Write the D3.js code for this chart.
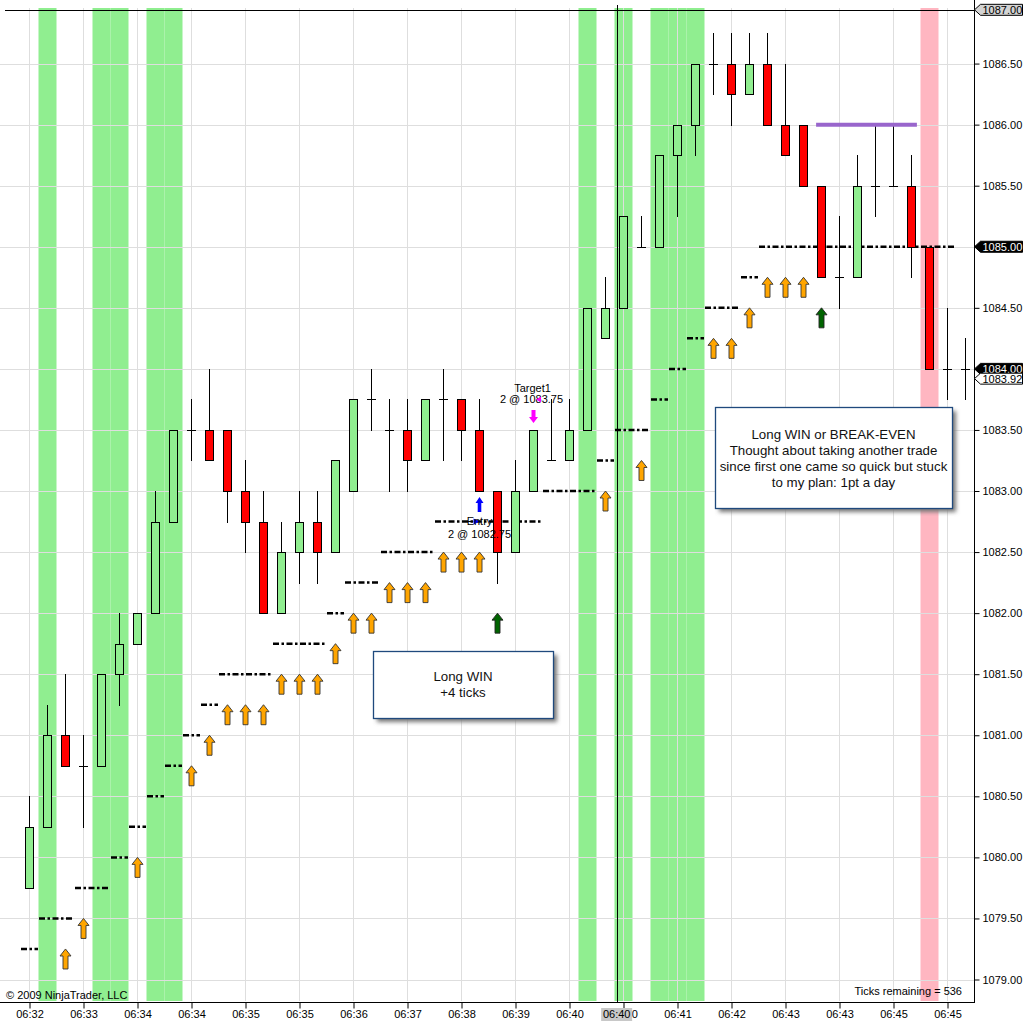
<!DOCTYPE html>
<html>
<head>
<meta charset="utf-8">
<script src="https://cdn.jsdelivr.net/npm/d3@7/dist/d3.min.js"></script>
<style>
body { margin: 0; background: white; }
svg text { font-family: Arial, "Liberation Sans", sans-serif; }
</style>
</head>
<body>
<div id="chart"></div>
<script>
// 1 minute-ish bars, ES chart, 53 bars
let opens  = [1079.75,1080.25,1081.00,1080.75,1080.75,1081.50,1081.75,1082.00,1082.75,1083.50,
              1083.50,1083.50,1083.00,1082.75,1082.00,1082.50,1082.75,1082.50,1083.00,1083.75,
              1083.50,1083.50,1083.25,1083.75,1083.75,1083.50,1083.00,1082.50,1083.00,1083.25,
              1083.25,1083.50,1084.25,1084.50,1085.00,1085.00,1085.75,1086.00,1086.50,1086.50,
              1086.25,1086.50,1086.00,1086.00,1085.50,1084.75,1084.75,1085.50,1085.50,1085.50,
              1085.00,1084.00,1084.00];
let highs  = [1080.50,1081.25,1081.50,1081.00,1081.50,1082.00,1082.00,1083.00,1083.50,1083.75,
              1084.00,1083.50,1083.25,1083.00,1082.75,1083.00,1083.00,1083.25,1083.75,1084.00,
              1083.75,1083.75,1083.75,1084.00,1083.75,1083.75,1083.00,1083.25,1083.50,1083.75,
              1083.75,1084.50,1084.75,1085.25,1085.25,1085.75,1086.00,1086.50,1086.75,1086.75,
              1086.75,1086.75,1086.50,1086.00,1085.50,1085.25,1085.75,1086.00,1086.00,1085.75,
              1085.00,1084.50,1084.25];
let lows   = [1079.75,1080.25,1080.75,1080.25,1080.75,1081.25,1081.75,1082.00,1082.75,1083.25,
              1083.25,1082.75,1082.50,1082.00,1082.00,1082.25,1082.25,1082.50,1083.00,1083.50,
              1083.00,1083.00,1083.25,1083.25,1083.25,1083.00,1082.25,1082.50,1083.00,1083.25,
              1083.25,1083.50,1084.25,1084.50,1085.00,1085.00,1085.25,1085.75,1086.25,1086.00,
              1086.25,1086.00,1085.75,1085.50,1084.75,1084.50,1084.75,1085.25,1085.50,1084.75,
              1084.00,1083.75,1083.75];
let closes = [1080.25,1081.00,1080.75,1080.75,1081.50,1081.75,1082.00,1082.75,1083.50,1083.50,
              1083.25,1083.00,1082.75,1082.00,1082.50,1082.75,1082.50,1083.25,1083.75,1083.75,
              1083.50,1083.25,1083.75,1083.75,1083.50,1083.00,1082.50,1083.00,1083.50,1083.25,
              1083.50,1084.50,1084.50,1085.25,1085.00,1085.75,1086.00,1086.50,1086.50,1086.25,
              1086.50,1086.00,1085.75,1085.50,1084.75,1084.75,1085.50,1085.50,1085.50,1085.00,
              1084.00,1084.00,1084.00];

// trailing stop (dash-dot steps), one value per bar
let stops  = [1079.25,1079.50,1079.50,1079.75,1079.75,1080.00,1080.25,1080.50,1080.75,1081.00,
              1081.25,1081.50,1081.50,1081.50,1081.75,1081.75,1081.75,1082.00,1082.25,1082.25,
              1082.50,1082.50,1082.50,1082.75,1082.75,1082.75,1082.75,1082.75,1082.75,1083.00,
              1083.00,1083.00,1083.25,1083.50,1083.50,1083.75,1084.00,1084.25,1084.50,1084.50,
              1084.75,1085.00,1085.00,1085.00,1085.00,1085.00,1085.00,1085.00,1085.00,1085.00,
              1085.00,1085.00,null];

let orangeArrowBars   = [3,4,7,10,11,12,13,14,15,16,17,18,19,20,21,22,23,24,25,26,33,35,39,40,41,42,43,44];
let orangeArrowPrices = [1079.25,1079.50,1080.00,1080.75,1081.00,1081.25,1081.25,1081.25,1081.50,1081.50,
                         1081.50,1081.75,1082.00,1082.00,1082.25,1082.25,1082.25,1082.50,1082.50,1082.50,
                         1083.00,1083.25,1084.25,1084.25,1084.50,1084.75,1084.75,1084.75];
let greenArrowBars   = [27, 45];
let greenArrowPrices = [1082.00, 1084.50];

let greenBackBars = [2,5,6,8,9,32,34,36,37,38];
let pinkBackBars  = [51];

let priceTicks = [1079.00,1079.50,1080.00,1080.50,1081.00,1081.50,1082.00,1082.50,
                  1083.00,1083.50,1084.00,1084.50,1085.00,1085.50,1086.00,1086.50];
let timeTickBars = [1,4,7,10,13,16,19,22,25,28,31,34,37,40,43,46,49,52];
let timeLabels   = ["06:32","06:33","06:34","06:34","06:35","06:35","06:36","06:37","06:38",
                    "06:39","06:40","06:40","06:41","06:42","06:43","06:43","06:45","06:45"];

let entryBar = 26, entryPrice = 1082.75, entryText = ["Entry", "2 @ 1082.75"];
let exitBar = 29, exitPrice = 1083.75, exitText = ["Target1", "2 @ 1083.75"];

let levelStartBar = 44.7, levelEndBar = 50.3, levelPrice = 1086.00;
let markerPrices = [1085.00, 1084.00];
let lastPrice = 1083.92;
let crossBar = 33.62, crossPrice = 1086.94, crossTime = "06:40";

let note1 = ["Long WIN", "+4 ticks"];
let note2 = ["Long WIN or BREAK-EVEN", "Thought about taking another trade",
             "since first one came so quick but stuck", "to my plan: 1pt a day"];

/*----------------------------------------------*/

let width = 1035, height = 1028;
let plotRight = 974, plotTop = 8, plotBottom = 1002;

let svg = d3.select("#chart")
	.append("svg")
	.attr("width", width)
	.attr("height", height)
	.style("background-color", "white");

let defs = svg.append("defs");
defs.append("clipPath").attr("id", "plot")
	.append("rect").attr("x", 0).attr("y", plotTop).attr("width", plotRight).attr("height", plotBottom - plotTop - 1);
defs.append("filter").attr("id", "shadow").attr("x", "-10%").attr("y", "-10%").attr("width", "130%").attr("height", "140%")
	.append("feGaussianBlur").attr("stdDeviation", 2);

let x = d3.scaleLinear().domain([1, 53]).range([29.5, 965.5]);
let y = d3.scaleLinear().domain([1079, 1087]).range([979.5, 2.5]);
let slot = x(2) - x(1);
let crisp = function(v){ return Math.round(v) + 0.5; };

let plot = svg.append("g").attr("clip-path", "url(#plot)");

// bar back colours
plot.selectAll(".back-green").data(greenBackBars).enter().append("rect")
	.attr("x", function(d){ return x(d) - slot / 2; })
	.attr("y", plotTop)
	.attr("width", slot)
	.attr("height", plotBottom - plotTop - 1)
	.attr("fill", "#90EE90");
plot.selectAll(".back-pink").data(pinkBackBars).enter().append("rect")
	.attr("x", function(d){ return x(d) - slot / 2; })
	.attr("y", plotTop)
	.attr("width", slot)
	.attr("height", plotBottom - plotTop - 1)
	.attr("fill", "#FFB6C1");

// grid
plot.selectAll(".hgrid").data(priceTicks).enter().append("line")
	.attr("x1", 0).attr("x2", plotRight)
	.attr("y1", function(d){ return crisp(y(d)); })
	.attr("y2", function(d){ return crisp(y(d)); })
	.attr("stroke", "#dedede");
plot.selectAll(".vgrid").data(timeTickBars).enter().append("line")
	.attr("x1", function(d){ return x(d); })
	.attr("x2", function(d){ return x(d); })
	.attr("y1", plotTop).attr("y2", plotBottom)
	.attr("stroke", "#dedede");

/*----------------------------------------------*/

// trailing stop, one segment per run of equal values
let runs = [];
stops.forEach(function(v, i){
	if (v === null) return;
	let last = runs[runs.length - 1];
	if (last && last.value === v && last.end === i) { last.end = i + 1; }
	else { runs.push({value: v, start: i + 1, end: i + 1}); }
});
plot.selectAll(".stop").data(runs).enter().append("line")
	.attr("x1", function(d){ return x(d.start) - slot / 2 + 0.5; })
	.attr("x2", function(d){ return x(d.end) + slot / 2 - 0.5; })
	.attr("y1", function(d){ return y(d.value); })
	.attr("y2", function(d){ return y(d.value); })
	.attr("stroke", "black")
	.attr("stroke-width", 2.5)
	.attr("stroke-dasharray", "6,2.5,2.5,2.5");

let upArrow = "M0,0 L5.5,7 L2.5,7 L2.5,20 L-2.5,20 L-2.5,7 L-5.5,7 Z";
plot.selectAll(".orange").data(orangeArrowBars).enter().append("path")
	.attr("d", upArrow)
	.attr("transform", function(d, i){ return "translate(" + x(d) + "," + y(orangeArrowPrices[i]) + ")"; })
	.attr("fill", "#FFA500")
	.attr("stroke", "#333")
	.attr("stroke-width", 0.9);
plot.selectAll(".darkgreen").data(greenArrowBars).enter().append("path")
	.attr("d", upArrow)
	.attr("transform", function(d, i){ return "translate(" + x(d) + "," + y(greenArrowPrices[i]) + ")"; })
	.attr("fill", "#006400")
	.attr("stroke", "#222")
	.attr("stroke-width", 0.9);

/*----------------------------------------------*/

// candles
let candleData = opens.map(function(o, i){
	return {bar: i + 1, open: o, high: highs[i], low: lows[i], close: closes[i]};
});

let candles = plot.selectAll(".candle").data(candleData).enter().append("g").classed("candle", true);

candles.append("line")
	.attr("x1", function(d){ return x(d.bar); })
	.attr("x2", function(d){ return x(d.bar); })
	.attr("y1", function(d){ return Math.round(y(d.high)); })
	.attr("y2", function(d){ return Math.round(y(d.low)) + 1; })
	.attr("stroke", "black");

candles.filter(function(d){ return d.open !== d.close; }).append("rect")
	.each(function(d){
		let top = crisp(y(Math.max(d.open, d.close)));
		let bottom = crisp(y(Math.min(d.open, d.close)));
		d3.select(this)
			.attr("x", x(d.bar) - 4)
			.attr("y", top)
			.attr("width", 8)
			.attr("height", bottom - top)
			.attr("fill", d.close > d.open ? "#90EE90" : "#FF0000")
			.attr("stroke", "black");
	});

candles.filter(function(d){ return d.open === d.close; }).append("line")
	.attr("x1", function(d){ return x(d.bar) - 4.5; })
	.attr("x2", function(d){ return x(d.bar) + 4.5; })
	.attr("y1", function(d){ return crisp(y(d.open)); })
	.attr("y2", function(d){ return crisp(y(d.open)); })
	.attr("stroke", "black");

// purple level line
plot.append("line")
	.attr("x1", x(levelStartBar)).attr("x2", x(levelEndBar))
	.attr("y1", y(levelPrice)).attr("y2", y(levelPrice))
	.attr("stroke", "#9966CC")
	.attr("stroke-width", 4);

/*----------------------------------------------*/

// executions
let ex = x(entryBar), ey = y(lows[entryBar - 1]) + 6;
plot.append("path")
	.attr("d", "M0,0 L4,6 L1.8,6 L1.8,15 L-1.8,15 L-1.8,6 L-4,6 Z")
	.attr("transform", "translate(" + ex + "," + ey + ")")
	.attr("fill", "#0000FF");
plot.append("path")
	.attr("d", "M0,-3 L6,0 L0,3 Z")
	.attr("transform", "translate(" + (ex - 6) + "," + y(entryPrice) + ")")
	.attr("fill", "#0000FF");
plot.append("text").attr("x", ex).attr("y", y(entryPrice) + 3.5)
	.attr("text-anchor", "middle").style("font-size", "11px").text(entryText[0]);
plot.append("text").attr("x", ex).attr("y", y(entryPrice) + 16)
	.attr("text-anchor", "middle").style("font-size", "11px").text(entryText[1]);

let tx = x(exitBar), ty = y(highs[exitBar - 1]) - 7;
plot.append("path")
	.attr("d", "M0,0 L4.5,-6 L2,-6 L2,-13 L-2,-13 L-2,-6 L-4.5,-6 Z")
	.attr("transform", "translate(" + tx + "," + ty + ")")
	.attr("fill", "#FF00FF");
plot.append("text").attr("x", tx - 1).attr("y", y(exitPrice) - 7)
	.attr("text-anchor", "middle").style("font-size", "11px").text(exitText[0]);
plot.append("text").attr("x", tx - 2).attr("y", y(exitPrice) + 4)
	.attr("text-anchor", "middle").style("font-size", "11px").text(exitText[1]);
plot.append("path")
	.attr("d", "M0,0 L5,-3 L5,3 Z")
	.attr("transform", "translate(" + (tx + 2.5) + "," + y(exitPrice) + ")")
	.attr("fill", "#FF00FF");

/*----------------------------------------------*/

// text boxes
function noteBox(bx, by, bw, bh, lines, firstBase) {
	svg.append("rect")
		.attr("x", bx + 4).attr("y", by + 4).attr("width", bw).attr("height", bh)
		.attr("fill", "#777").attr("filter", "url(#shadow)");
	svg.append("rect")
		.attr("x", bx + 0.5).attr("y", by + 0.5).attr("width", bw).attr("height", bh)
		.attr("fill", "white").attr("stroke", "#1F497D").attr("stroke-width", 1.3);
	svg.selectAll(null).data(lines).enter().append("text")
		.attr("x", bx + bw / 2)
		.attr("y", function(d, i){ return firstBase + i * 16; })
		.attr("text-anchor", "middle")
		.style("font-size", "13.3px")
		.style("fill", "#111")
		.text(function(d){ return d; });
}
noteBox(373, 651, 180, 67, note1, 681);
noteBox(715, 407, 237, 101, note2, 438.5);

// crosshair
svg.append("line")
	.attr("x1", crisp(x(crossBar))).attr("x2", crisp(x(crossBar)))
	.attr("y1", 5).attr("y2", plotBottom)
	.attr("stroke", "black");
svg.append("line")
	.attr("x1", 5).attr("x2", plotRight)
	.attr("y1", crisp(y(crossPrice))).attr("y2", crisp(y(crossPrice)))
	.attr("stroke", "black");

svg.append("text").attr("x", 6).attr("y", 999).style("font-size", "11px").text("\u00A9 2009 NinjaTrader, LLC");
svg.append("text").attr("x", 962).attr("y", 995).attr("text-anchor", "end").style("font-size", "11px").text("Ticks remaining = 536");

/*----------------------------------------------*/

// axes
let yAxis = svg.append("g")
	.attr("transform", "translate(" + (plotRight + 0.5) + ",0)")
	.call(d3.axisRight(y).tickValues(priceTicks).tickFormat(d3.format(".2f")).tickSize(5).tickPadding(3));
yAxis.select(".domain").remove();
yAxis.selectAll("text").style("font-size", "11px").attr("fill", "black");

let xAxis = svg.append("g")
	.attr("transform", "translate(0," + (plotBottom + 0.5) + ")")
	.call(d3.axisBottom(x).tickValues(timeTickBars).tickFormat(function(d, i){ return timeLabels[i]; }).tickSize(6).tickPadding(2));
xAxis.select(".domain").remove();
xAxis.selectAll("text").style("font-size", "11px").attr("fill", "black");

svg.append("line").attr("x1", 0).attr("x2", plotRight + 1)
	.attr("y1", plotBottom + 0.5).attr("y2", plotBottom + 0.5).attr("stroke", "black");
svg.append("line").attr("x1", plotRight + 0.5).attr("x2", plotRight + 0.5)
	.attr("y1", 0).attr("y2", plotBottom + 1).attr("stroke", "black");

// price markers on the axis
function marker(price, label, fill, textFill) {
	let g = svg.append("g").attr("transform", "translate(" + (plotRight + 0.5) + "," + y(price) + ")");
	g.append("path")
		.attr("d", "M0,0 L6,-5.5 L48,-5.5 L48,5.5 L6,5.5 Z")
		.attr("fill", fill).attr("stroke", "black");
	g.append("text").attr("x", 8).attr("y", 4)
		.style("font-size", "11px").attr("fill", textFill).text(label);
}
markerPrices.forEach(function(p){ marker(p, d3.format(".2f")(p), "black", "white"); });
marker(lastPrice, d3.format(".2f")(lastPrice), "white", "black");
marker(crossPrice, d3.format(".2f")(Math.round(crossPrice * 4) / 4), "#d3d3d3", "black");

let cx = x(crossBar);
svg.append("rect").attr("x", cx - 15.5).attr("y", 1008).attr("width", 31).attr("height", 13).attr("fill", "#c8c8c8");
svg.append("text").attr("x", cx).attr("y", 1018).attr("text-anchor", "middle").style("font-size", "11px").text(crossTime);
</script>
</body>
</html>
